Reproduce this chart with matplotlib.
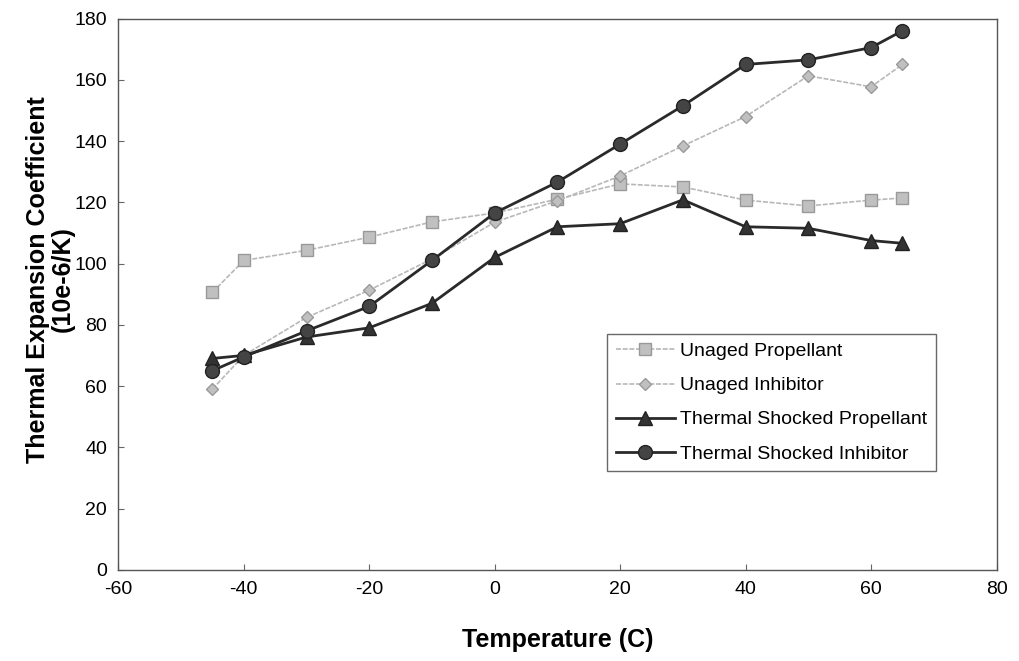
import numpy as np
import matplotlib.pyplot as plt

plt.rcParams['font.family'] = ['Liberation Sans', 'DejaVu Sans']
plt.rcParams['axes.unicode_minus'] = False

temp = [-45, -40, -30, -20, -10, 0, 10, 20, 30, 40, 50, 60, 65]
unaged_prop = [90.6, 101, 104.3, 108.6, 113.6, 116.5, 121, 126, 125, 120.7, 118.8, 120.7, 121.4]
unaged_inh = [59, 70, 82.4, 91.3, 101.5, 113.5, 120.5, 128.6, 138.4, 148, 161.3, 157.7, 165]
shock_prop = [69, 70, 76, 79, 87, 102, 112, 113, 120.8, 112, 111.5, 107.5, 106.6]
shock_inh = [65, 69.5, 78, 86, 101, 116.5, 126.6, 139, 151.5, 165, 166.5, 170.5, 176]

fig = plt.figure(figsize=(10.2, 6.61), dpi=100)
ax = fig.add_axes([0.116, 0.138, 0.861, 0.834])

ax.plot(temp, unaged_prop, color='#b8b8b8', lw=1.2, ls=(0, (3, 1)), marker='s', ms=8,
        mfc='#c0c0c0', mec='#999999', label='Unaged Propellant')
ax.plot(temp, unaged_inh, color='#b8b8b8', lw=1.2, ls=(0, (3, 1)), marker='D', ms=6.5,
        mfc='#c0c0c0', mec='#999999', label='Unaged Inhibitor')
ax.plot(temp, shock_prop, color='#2a2a2a', lw=2, marker='^', ms=10,
        mfc='#333333', mec='#222222', label='Thermal Shocked Propellant')
ax.plot(temp, shock_inh, color='#2a2a2a', lw=2, marker='o', ms=10,
        mfc='#444444', mec='#222222', label='Thermal Shocked Inhibitor')

ax.set_xlim(-60, 80)
ax.set_ylim(0, 180)
ax.set_xticks(np.arange(-60, 81, 20))
ax.set_yticks(np.arange(0, 181, 20))
ax.tick_params(axis='both', direction='in', length=4, labelsize=14, pad=8, color='#666666')
for s in ax.spines.values():
    s.set_color('#555555')
    s.set_linewidth(1)

ax.set_xlabel('Temperature (C)', fontsize=18, fontweight='bold', labelpad=22)
ax.set_ylabel('Thermal Expansion Coefficient\n(10e-6/K)', fontsize=18, fontweight='bold',
              linespacing=1.0)
ax.yaxis.set_label_coords(-0.05, 0.527)

leg = ax.legend(loc='upper left', bbox_to_anchor=(0.557, 0.428), fontsize=14,
                frameon=True, fancybox=False, edgecolor='#444444', handlelength=3,
                borderpad=0.45, labelspacing=0.85, handletextpad=0.3, borderaxespad=0)
leg.get_frame().set_linewidth(1)

fig.savefig('out.png', dpi=100)
